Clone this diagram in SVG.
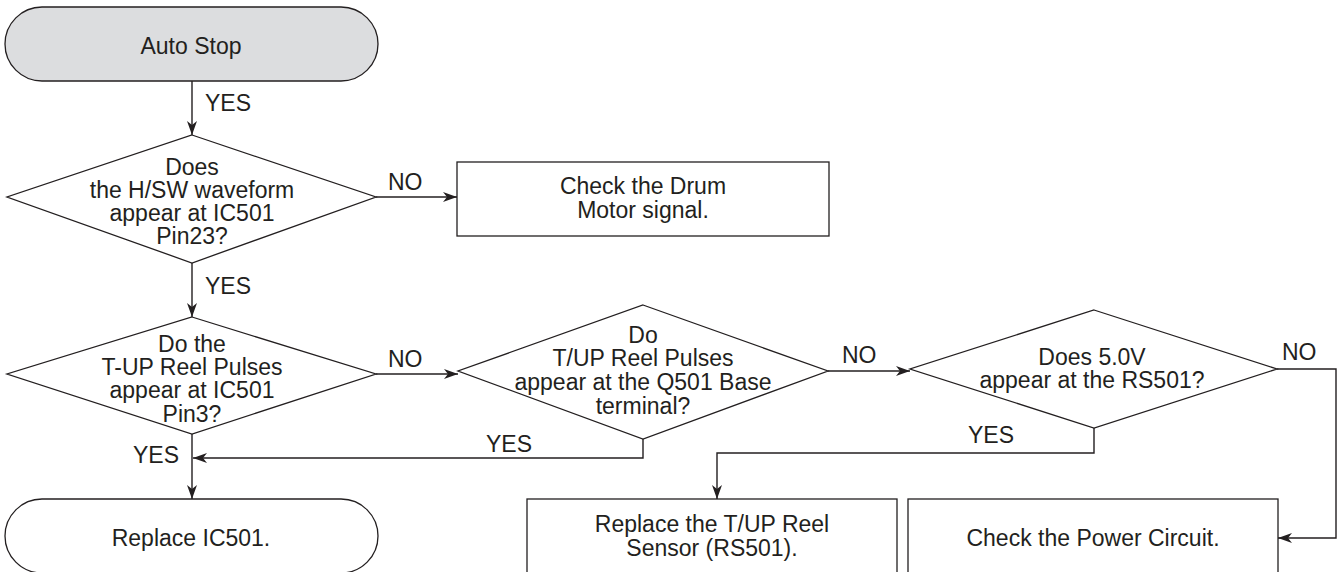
<svg xmlns="http://www.w3.org/2000/svg" width="1339" height="572" viewBox="0 0 1339 572">
<defs>
<marker id="ah" viewBox="0 0 14 10" refX="14" refY="5" markerWidth="14" markerHeight="10" markerUnits="userSpaceOnUse" orient="auto">
<path d="M0,0 L14,5 L0,10 L4,5 Z" fill="#231f20"/>
</marker>
</defs>
<style>
.s{fill:#fff;stroke:#231f20;stroke-width:1.3}
.g{fill:#dcdddf;stroke:#231f20;stroke-width:1.3}
.c{fill:none;stroke:#231f20;stroke-width:1.4}
text{font-family:"Liberation Sans",Arial,sans-serif;font-size:23px;fill:#231f20}
.m{text-anchor:middle}
</style>
<rect width="1339" height="572" fill="#fff"/>
<g id="connectors">
<path class="c" d="M192,81 V135" marker-end="url(#ah)"/>
<path class="c" d="M376,197 H457" marker-end="url(#ah)"/>
<path class="c" d="M192,263 V317" marker-end="url(#ah)"/>
<path class="c" d="M376,374 H458" marker-end="url(#ah)"/>
<path class="c" d="M828,371 H910" marker-end="url(#ah)"/>
<path class="c" d="M192,434 V499" marker-end="url(#ah)"/>
<path class="c" d="M643,439 V458 H193" marker-end="url(#ah)"/>
<path class="c" d="M1094,428 V453 H717 V499" marker-end="url(#ah)"/>
<path class="c" d="M1277,369 H1336 V538 H1278" marker-end="url(#ah)"/>
<text x="205" y="111">YES</text>
<text x="388" y="190">NO</text>
<text x="205" y="294">YES</text>
<text x="388" y="367">NO</text>
<text x="842" y="363">NO</text>
<text x="1282" y="360">NO</text>
<text x="486" y="452">YES</text>
<text x="968" y="443">YES</text>
<text x="133" y="463">YES</text>
</g>
<g id="auto-stop">
<rect class="g" x="5" y="7" width="373" height="74" rx="37"/>
<text class="m" x="191" y="54">Auto Stop</text>
</g>
<g id="d1">
<polygon class="s" points="192,135 376,197 192,263 7,197"/>
<text class="m" x="192" y="175">Does</text>
<text class="m" x="192" y="198">the H/SW waveform</text>
<text class="m" x="192" y="221">appear at IC501</text>
<text class="m" x="192" y="244">Pin23?</text>
</g>
<g id="drum">
<rect class="s" x="457" y="162" width="372" height="74"/>
<text class="m" x="643" y="194">Check the Drum</text>
<text class="m" x="643" y="218">Motor signal.</text>
</g>
<g id="d2">
<polygon class="s" points="192,317 376,374 192,434 7,374"/>
<text class="m" x="192" y="352">Do the</text>
<text class="m" x="192" y="375">T-UP Reel Pulses</text>
<text class="m" x="192" y="398">appear at IC501</text>
<text class="m" x="192" y="422">Pin3?</text>
</g>
<g id="d3">
<polygon class="s" points="643,305 828,371 643,439 458,371"/>
<text class="m" x="643" y="343">Do</text>
<text class="m" x="643" y="366">T/UP Reel Pulses</text>
<text class="m" x="643" y="390">appear at the Q501 Base</text>
<text class="m" x="643" y="414">terminal?</text>
</g>
<g id="d4">
<polygon class="s" points="1094,310 1277,369 1094,428 910,369"/>
<text class="m" x="1092" y="365">Does 5.0V</text>
<text class="m" x="1092" y="388">appear at the RS501?</text>
</g>
<g id="replace-ic501">
<rect class="s" x="5" y="499" width="373" height="74" rx="37"/>
<text class="m" x="191" y="546">Replace IC501.</text>
</g>
<g id="replace-sensor">
<rect class="s" x="527" y="499" width="370" height="90"/>
<text class="m" x="712" y="532">Replace the T/UP Reel</text>
<text class="m" x="712" y="556">Sensor (RS501).</text>
</g>
<g id="power">
<rect class="s" x="908" y="499" width="370" height="90"/>
<text class="m" x="1093" y="546">Check the Power Circuit.</text>
</g>
</svg>
